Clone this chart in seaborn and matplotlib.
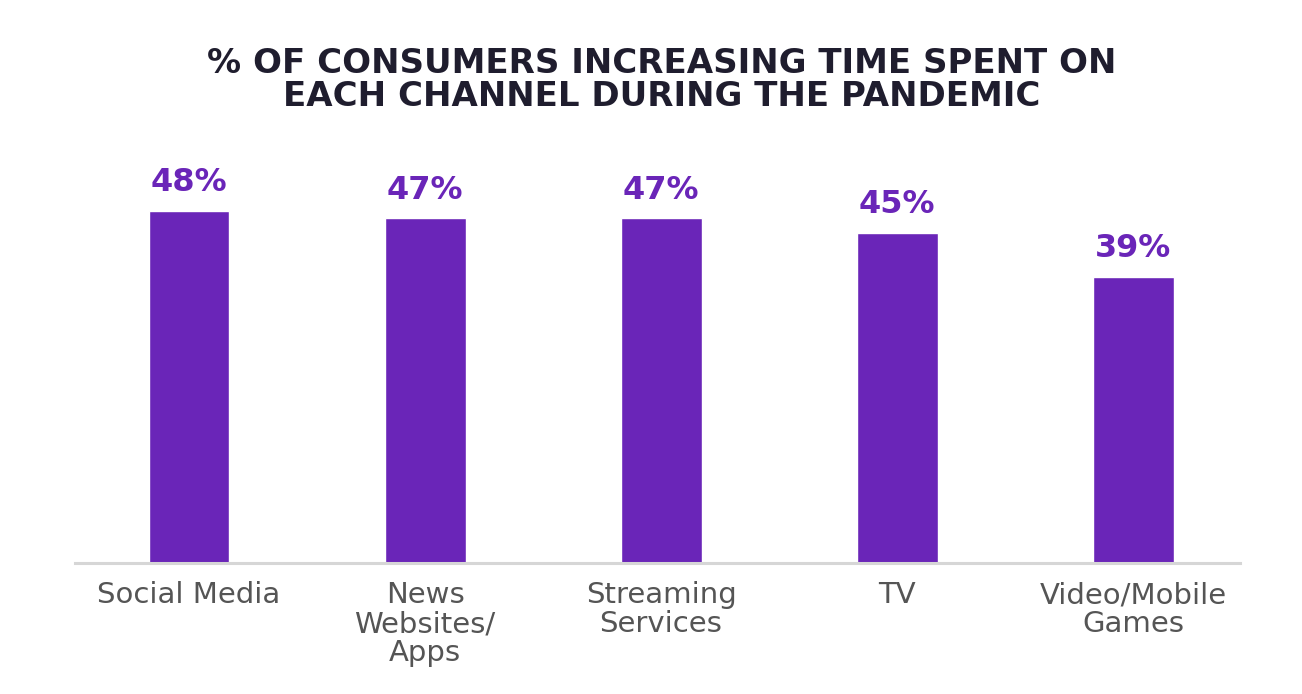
import pandas as pd
import matplotlib.pyplot as plt
import seaborn as sns

# datos del grafico
canales = ["Social Media", "News\nWebsites/\nApps", "Streaming\nServices", "TV", "Video/Mobile\nGames"]
porcentajes = [48, 47, 47, 45, 39]

df = pd.DataFrame({"canal": canales, "pct": porcentajes})

sns.set_style("white")
plt.rcParams["font.family"] = ["DejaVu Sans"]

morado = "#6a25b8"

fig = plt.figure(figsize=(13.02, 6.94), dpi=100)
ax = fig.add_axes([0.0576, 0.1888, 0.8948, 0.61])

sns.barplot(data=df, x="canal", y="pct", color=morado, saturation=1, width=0.343, ax=ax)

ax.bar_label(ax.containers[0], fmt="%d%%", padding=9, color=morado,
             fontsize=23, fontweight="bold")

ax.set_xlim(-0.483, 4.453)
ax.set_ylim(0, 57.7)
ax.set_xlabel("")
ax.set_ylabel("")
ax.set_yticks([])
ax.tick_params(axis="x", length=0, pad=13, labelsize=21, labelcolor="#555555")
for lbl in ax.get_xticklabels():
    lbl.set_linespacing(1.05)

for s in ["top", "right", "left"]:
    ax.spines[s].set_visible(False)
ax.spines["bottom"].set_color("#d6d6d6")
ax.spines["bottom"].set_linewidth(2.2)

fig.text(0.508, 0.885, "% OF CONSUMERS INCREASING TIME SPENT ON\nEACH CHANNEL DURING THE PANDEMIC",
         ha="center", va="center", fontsize=24.5, fontweight="bold", color="#1f1d2e",
         linespacing=1.0)

plt.savefig("out.png", dpi=100)
